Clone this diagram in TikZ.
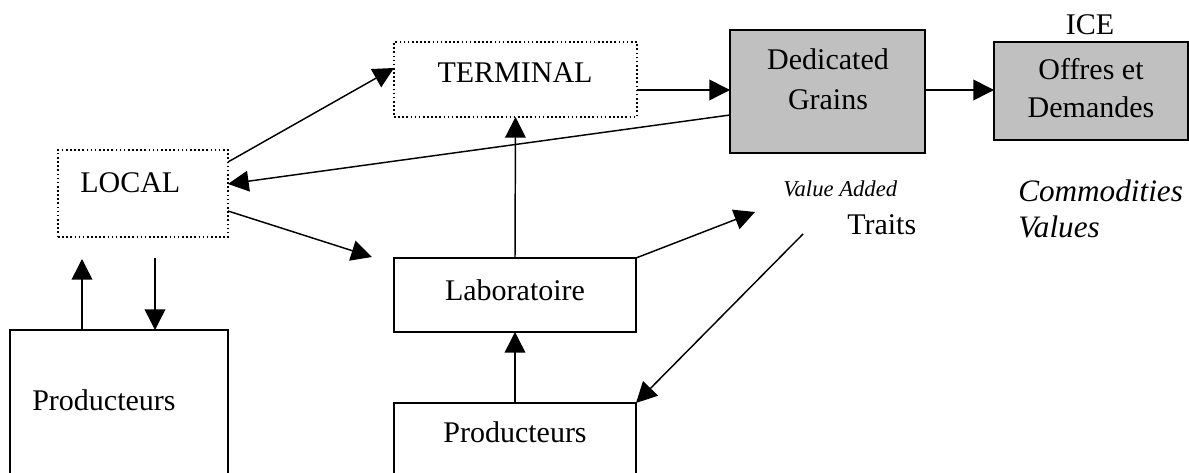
\documentclass[tikz,border=0pt]{standalone}
\usepackage{fontspec}
\setmainfont{Liberation Serif}
\usetikzlibrary{arrows.meta,calc}
\definecolor{boxgray}{HTML}{C0C0C0}
\begin{document}
\begin{tikzpicture}[x=0.75pt,y=-0.75pt,
  box/.style={draw,line width=1.1pt,inner sep=0pt,outer sep=0pt},
  dotbox/.style={box,dash pattern=on 1.2pt off 1.9pt},
  graybox/.style={box,fill=boxgray},
  arr/.style={line width=1.1pt,-{Triangle[length=15.5pt,width=15.5pt]}},
  txt/.style={inner sep=0pt,font=\fontsize{22.5}{27}\selectfont},
  itxt/.style={inner sep=0pt,font=\fontsize{23.4}{28}\selectfont\itshape},
  stxt/.style={inner sep=0pt,font=\fontsize{17}{20}\selectfont\itshape}]
\clip (0,0) rectangle (1189,473);

% boxes
\node[dotbox,minimum width=127.5pt,minimum height=65.25pt] (local) at (143,193.5) {};
\node[dotbox,minimum width=182.25pt,minimum height=56.25pt] (terminal) at (515.5,79.5) {};
\node[graybox,minimum width=146.25pt,minimum height=92.25pt] (dedicated) at (827.5,91.5) {};
\node[graybox,minimum width=145.5pt,minimum height=73.5pt] (ice) at (1091,91) {};
\node[box,minimum width=181.5pt,minimum height=55.5pt] (lab) at (515,295) {};
\node[box,minimum width=181.5pt,minimum height=117.75pt] (prodR) at (515,481.5) {};
\node[box,minimum width=163.5pt,minimum height=172.5pt] (prodL) at (119,445) {};

% texts
\node[txt,anchor=base west] (localtxt) at (80,193) {LOCAL};
\node[txt,anchor=base] (terminaltxt) at (515,83) {TERMINAL};
\node[txt,anchor=base] (dedtxta) at (828,70) {Dedicated};
\node[txt,anchor=base] (dedtxtb) at (828,110) {Grains};
\node[txt,anchor=base] (icetxta) at (1091,80) {Offres et};
\node[txt,anchor=base] (icetxtb) at (1091,118) {Demandes};
\node[txt,anchor=base] (icelabel) at (1090,35) {ICE};
\node[txt,anchor=base] (labtxt) at (515,301) {Laboratoire};
\node[txt,anchor=base west] (prodLtxt) at (32,411) {Producteurs};
\node[txt,anchor=base] (prodRtxt) at (515,443) {Producteurs};
\node[stxt,anchor=base west] (vatxt) at (783,197) {Value Added};
\node[txt,anchor=base west] (traits) at (847,235) {Traits};
\node[itxt,anchor=base west] (commod) at (1018,202) {Commodities};
\node[itxt,anchor=base west] (values) at (1018,238) {Values};

% free ends
\coordinate (labin) at (372,257);
\coordinate (upL) at (82,259);
\coordinate (dnL) at (155,258);
\coordinate (vaend) at (755,212);
\coordinate (trstart) at (803,234);

% connectors
\draw[arr] ($(local.north east)+(0,12)$) -- ($(terminal.north west)+(0,26)$);
\draw[arr] ($(dedicated.north west)+(0,85)$) -- ($(local.north east)+(0,34)$);
\draw[arr] ($(local.north east)+(0,61)$) -- (labin);
\draw[arr] ($(terminal.north east)+(0,48)$) -- ($(dedicated.north west)+(0,60)$);
\draw[arr] ($(dedicated.north east)+(0,60)$) -- ($(ice.north west)+(0,48)$);
\draw[arr] (lab.north) -- (terminal.south);
\draw[arr] (prodR.north) -- (lab.south);
\draw[arr] ($(prodL.north west)+(72,0)$) -- (upL);
\draw[arr] (dnL) -- ($(prodL.north west)+(145,0)$);
\draw[arr] (lab.north east) -- (vaend);
\draw[arr] (trstart) -- (prodR.north east);
\end{tikzpicture}
\end{document}
